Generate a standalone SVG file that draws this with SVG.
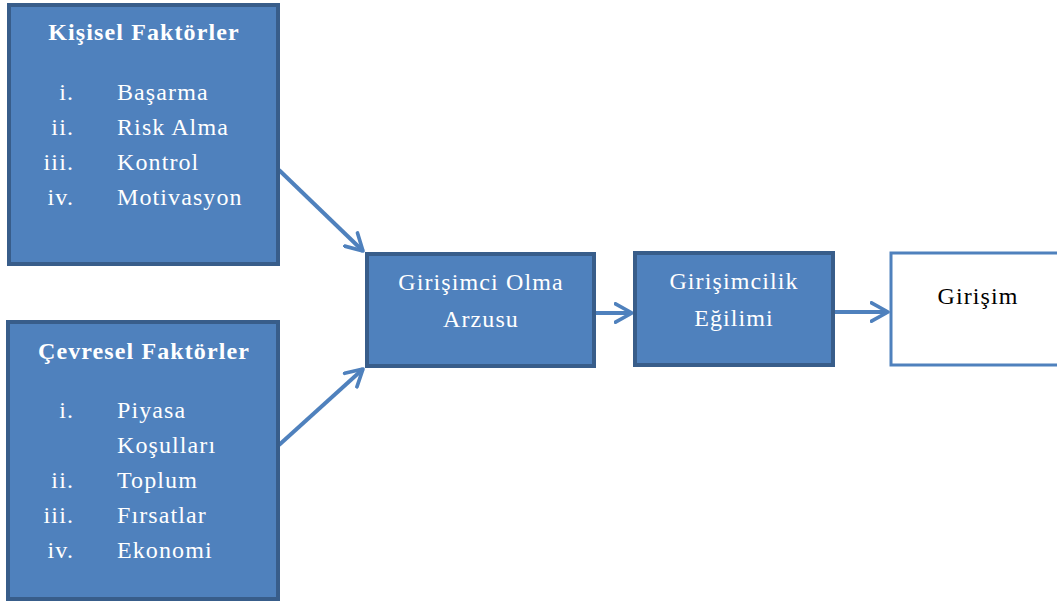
<svg xmlns="http://www.w3.org/2000/svg" width="1057" height="603" viewBox="0 0 1057 603">
<defs>
<style>
.box{fill:#4F81BD;stroke:#385D8A;stroke-width:4}
.wbox{fill:#FFFFFF;stroke:#4F81BD;stroke-width:3}
.t{font-family:"Liberation Serif","Times New Roman",serif;font-size:24px;fill:#FFFFFF;letter-spacing:1.1px}
.b{font-weight:bold}
.c{text-anchor:middle}
.n{text-anchor:end}
.k{fill:#000000}
.conn{stroke:#4F81BD;stroke-width:4;fill:none}
</style>
<marker id="ah" viewBox="0 0 12 12" refX="10" refY="6" markerWidth="5.5" markerHeight="5.5" orient="auto" markerUnits="strokeWidth">
<path d="M1,1 L10,6 L1,11" fill="none" stroke="#4F81BD" stroke-width="2" stroke-linecap="round" stroke-linejoin="round"/>
</marker>
</defs>
<g id="connectors">
<line class="conn" x1="279" y1="170" x2="363" y2="251" marker-end="url(#ah)"/>
<line class="conn" x1="279" y1="445" x2="363" y2="369" marker-end="url(#ah)"/>
<line class="conn" x1="594" y1="313" x2="632" y2="313" marker-end="url(#ah)"/>
<line class="conn" x1="833" y1="312" x2="888" y2="312" marker-end="url(#ah)"/>
</g>
<g id="kisisel">
<rect class="box" x="9" y="5" width="269" height="259"/>
<text class="t b c" x="144" y="40">Kişisel Faktörler</text>
<text class="t n" x="74" y="100">i.</text><text class="t" x="117" y="100">Başarma</text>
<text class="t n" x="74" y="135">ii.</text><text class="t" x="117" y="135">Risk Alma</text>
<text class="t n" x="74" y="170">iii.</text><text class="t" x="117" y="170">Kontrol</text>
<text class="t n" x="74" y="205">iv.</text><text class="t" x="117" y="205">Motivasyon</text>
</g>
<g id="cevresel">
<rect class="box" x="8" y="322" width="270" height="277"/>
<text class="t b c" x="144" y="359">Çevresel Faktörler</text>
<text class="t n" x="74" y="418">i.</text><text class="t" x="117" y="418">Piyasa</text>
<text class="t" x="117" y="453">Koşulları</text>
<text class="t n" x="74" y="488">ii.</text><text class="t" x="117" y="488">Toplum</text>
<text class="t n" x="74" y="523">iii.</text><text class="t" x="117" y="523">Fırsatlar</text>
<text class="t n" x="74" y="558">iv.</text><text class="t" x="117" y="558">Ekonomi</text>
</g>
<g id="arzu">
<rect class="box" x="367" y="254" width="227" height="112"/>
<text class="t c" x="481" y="290">Girişimci Olma</text>
<text class="t c" x="481" y="327">Arzusu</text>
</g>
<g id="egilim">
<rect class="box" x="635" y="253" width="198" height="112"/>
<text class="t c" x="734" y="289">Girişimcilik</text>
<text class="t c" x="734" y="326">Eğilimi</text>
</g>
<g id="girisim">
<rect class="wbox" x="891" y="253" width="170" height="112"/>
<text class="t c k" x="978" y="304">Girişim</text>
</g>
</svg>
